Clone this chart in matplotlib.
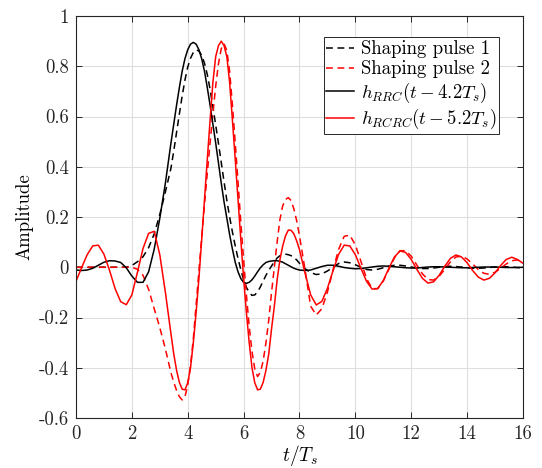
import numpy as np
import matplotlib
matplotlib.use("Agg")
import matplotlib.pyplot as plt

# sample instants (t/Ts): coarse on the tails, finer around the main lobes
t = np.round(np.concatenate([np.arange(0, 3.41, 0.2),
                             np.arange(3.5, 8.01, 0.1),
                             np.arange(8.2, 16.01, 0.2)]), 1)

shaping_pulse_1 = [
    0, 0, 0, 0, 0, 0, 0, 0, 0, 0,
    0.007, 0.022, 0.042, 0.078, 0.133, 0.21, 0.30, 0.395,
    0.463, 0.537, 0.61, 0.681, 0.745, 0.797, 0.832, 0.855, 0.865, 0.861,
    0.843, 0.812, 0.767, 0.708, 0.639, 0.567, 0.493, 0.417, 0.34, 0.266,
    0.2, 0.14, 0.085, 0.035, -0.01, -0.05, -0.08, -0.10, -0.112, -0.11,
    -0.098, -0.078, -0.055, -0.032, -0.012, 0.005, 0.022, 0.037, 0.046, 0.051,
    0.052, 0.05, 0.046, 0.04, 0.029, 0.016,
    -0.006, -0.021, -0.029, -0.026, -0.015, 0.0, 0.015, 0.021, 0.018, 0.01,
    0.0, -0.009, -0.011, -0.008, -0.002, 0.004, 0.008, 0.008, 0.005, 0.001,
    -0.003, -0.005, -0.005, -0.003, 0.0, 0.003, 0.004, 0.003, 0.001, -0.002,
    -0.004, -0.004, -0.003, -0.001, 0.001, 0.002, 0.002, 0.001, -0.001, -0.002,
]

shaping_pulse_2 = [
    0, 0, 0, 0, 0, 0, 0, 0, 0, 0, 0,
    -0.008, -0.032, -0.088, -0.165, -0.24, -0.325, -0.42,
    -0.458, -0.49, -0.515, -0.528, -0.515, -0.47, -0.39, -0.285, -0.15, -0.015,
    0.12, 0.25, 0.375, 0.495, 0.61, 0.72, 0.81, 0.87, 0.89, 0.862,
    0.78, 0.645, 0.495, 0.34, 0.18, 0.03, -0.11, -0.235, -0.335, -0.405,
    -0.435, -0.418, -0.373, -0.30, -0.21, -0.10, 0.0, 0.10, 0.19, 0.245,
    0.27, 0.277, 0.265, 0.232, 0.185, 0.125,
    -0.01, -0.155, -0.19, -0.165, -0.099, -0.011, 0.071, 0.123, 0.128, 0.089,
    0.023, -0.045, -0.085, -0.085, -0.055, -0.008, 0.038, 0.066, 0.066, 0.044,
    0.009, -0.026, -0.049, -0.051, -0.036, -0.008, 0.021, 0.041, 0.044, 0.033,
    0.013, -0.009, -0.024, -0.028, -0.020, -0.004, 0.013, 0.026, 0.029, 0.021,
]

h_rrc = [
    -0.011, -0.013, -0.011, -0.004, 0.008, 0.020, 0.026, 0.025, 0.019, -0.002,
    -0.035, -0.060, -0.060, -0.018, 0.072, 0.195, 0.335, 0.495,
    0.57, 0.645, 0.715, 0.78, 0.83, 0.866, 0.888, 0.895, 0.888, 0.866,
    0.83, 0.78, 0.715, 0.645, 0.57, 0.495, 0.415, 0.335, 0.26, 0.195,
    0.13, 0.072, 0.02, -0.018, -0.045, -0.06, -0.064, -0.06, -0.05, -0.035,
    -0.018, -0.002, 0.01, 0.019, 0.023, 0.025, 0.026, 0.026, 0.024, 0.02,
    0.014, 0.008, 0.002, -0.004, -0.008, -0.011,
    -0.013, -0.011, -0.004, 0.003, 0.008, 0.008, 0.004, -0.001, -0.004, -0.006,
    -0.005, -0.002, 0.001, 0.004, 0.005, 0.004, 0.002, 0.0, -0.002, -0.003,
    -0.003, -0.001, 0.001, 0.002, 0.002, 0.001, 0.0, -0.001, -0.002, -0.002,
    -0.001, 0.0, 0.001, 0.001, 0.001, 0.0, -0.001, -0.001, -0.001, 0.0,
]

h_rcrc = [
    -0.056, -0.002, 0.050, 0.085, 0.088, 0.052, -0.012, -0.085, -0.137, -0.149,
    -0.110, -0.020, 0.075, 0.135, 0.143, 0.05, -0.10, -0.265,
    -0.345, -0.41, -0.458, -0.485, -0.488, -0.46, -0.40, -0.30, -0.18, -0.045,
    0.11, 0.27, 0.43, 0.585, 0.735, 0.838, 0.882, 0.90, 0.882, 0.838,
    0.735, 0.585, 0.43, 0.27, 0.11, -0.045, -0.18, -0.30, -0.40, -0.46,
    -0.488, -0.485, -0.458, -0.41, -0.345, -0.245, -0.155, -0.05, 0.03, 0.085,
    0.125, 0.148, 0.147, 0.133, 0.105, 0.07,
    -0.024, -0.11, -0.15, -0.136, -0.084, -0.014, 0.051, 0.088, 0.085, 0.050,
    -0.004, -0.056, -0.087, -0.085, -0.053, -0.004, 0.041, 0.065, 0.059, 0.031,
    -0.008, -0.044, -0.063, -0.058, -0.032, 0.004, 0.035, 0.049, 0.041, 0.018,
    -0.013, -0.039, -0.051, -0.044, -0.022, 0.007, 0.031, 0.040, 0.031, 0.016,
]

x_ticks = [0, 2, 4, 6, 8, 10, 12, 14, 16]
y_ticks = [-0.6, -0.4, -0.2, 0, 0.2, 0.4, 0.6, 0.8, 1]
y_tick_labels = ["-0.6", "-0.4", "-0.2", "0", "0.2", "0.4", "0.6", "0.8", "1"]

legend_labels = [
    "Shaping pulse 1",
    "Shaping pulse 2",
    r"$h_{RRC}(t-4.2T_s)$",
    r"$h_{RCRC}(t-5.2T_s)$",
]


def plot_pulses():
    plt.rcParams["font.family"] = "cmr10"
    plt.rcParams["mathtext.fontset"] = "cm"
    plt.rcParams["axes.unicode_minus"] = False

    fig = plt.figure(figsize=(5.42, 4.68), dpi=100)
    ax = fig.add_axes([0.1402, 0.1068, 0.8247, 0.859])

    dash = (0, (4.5, 3))
    ax.plot(t, shaping_pulse_1, color="black", lw=1.1, linestyle=dash, label=legend_labels[0])
    ax.plot(t, shaping_pulse_2, color="red", lw=1.1, linestyle=dash, label=legend_labels[1])
    ax.plot(t, h_rrc, color="black", lw=1.1, label=legend_labels[2])
    ax.plot(t, h_rcrc, color="red", lw=1.1, label=legend_labels[3])

    ax.set_xlim(0, 16)
    ax.set_ylim(-0.6, 1)
    ax.set_xticks(x_ticks)
    ax.set_yticks(y_ticks)
    ax.set_yticklabels(y_tick_labels)
    ax.grid(True, color="#dedede", linewidth=0.8)
    ax.set_axisbelow(True)
    ax.tick_params(direction="in", top=True, right=True, length=4,
                   width=0.7, colors="#262626", labelsize=13.5, pad=5)
    for spine in ax.spines.values():
        spine.set_color("#262626")
        spine.set_linewidth(0.8)

    ax.set_xlabel(r"$t/T_s$", fontsize=14, labelpad=0)
    ax.set_ylabel("Amplitude", fontsize=13.5, labelpad=4)

    leg = ax.legend(loc="upper right", bbox_to_anchor=(0.947, 0.947),
                    borderaxespad=0, fontsize=13.5, fancybox=False,
                    framealpha=1, edgecolor="#262626", handlelength=1.5,
                    handletextpad=0.35, labelspacing=0.12, borderpad=0.15)
    leg.get_frame().set_linewidth(0.7)

    fig.savefig("out.png", dpi=100)


if __name__ == "__main__":
    plot_pulses()
